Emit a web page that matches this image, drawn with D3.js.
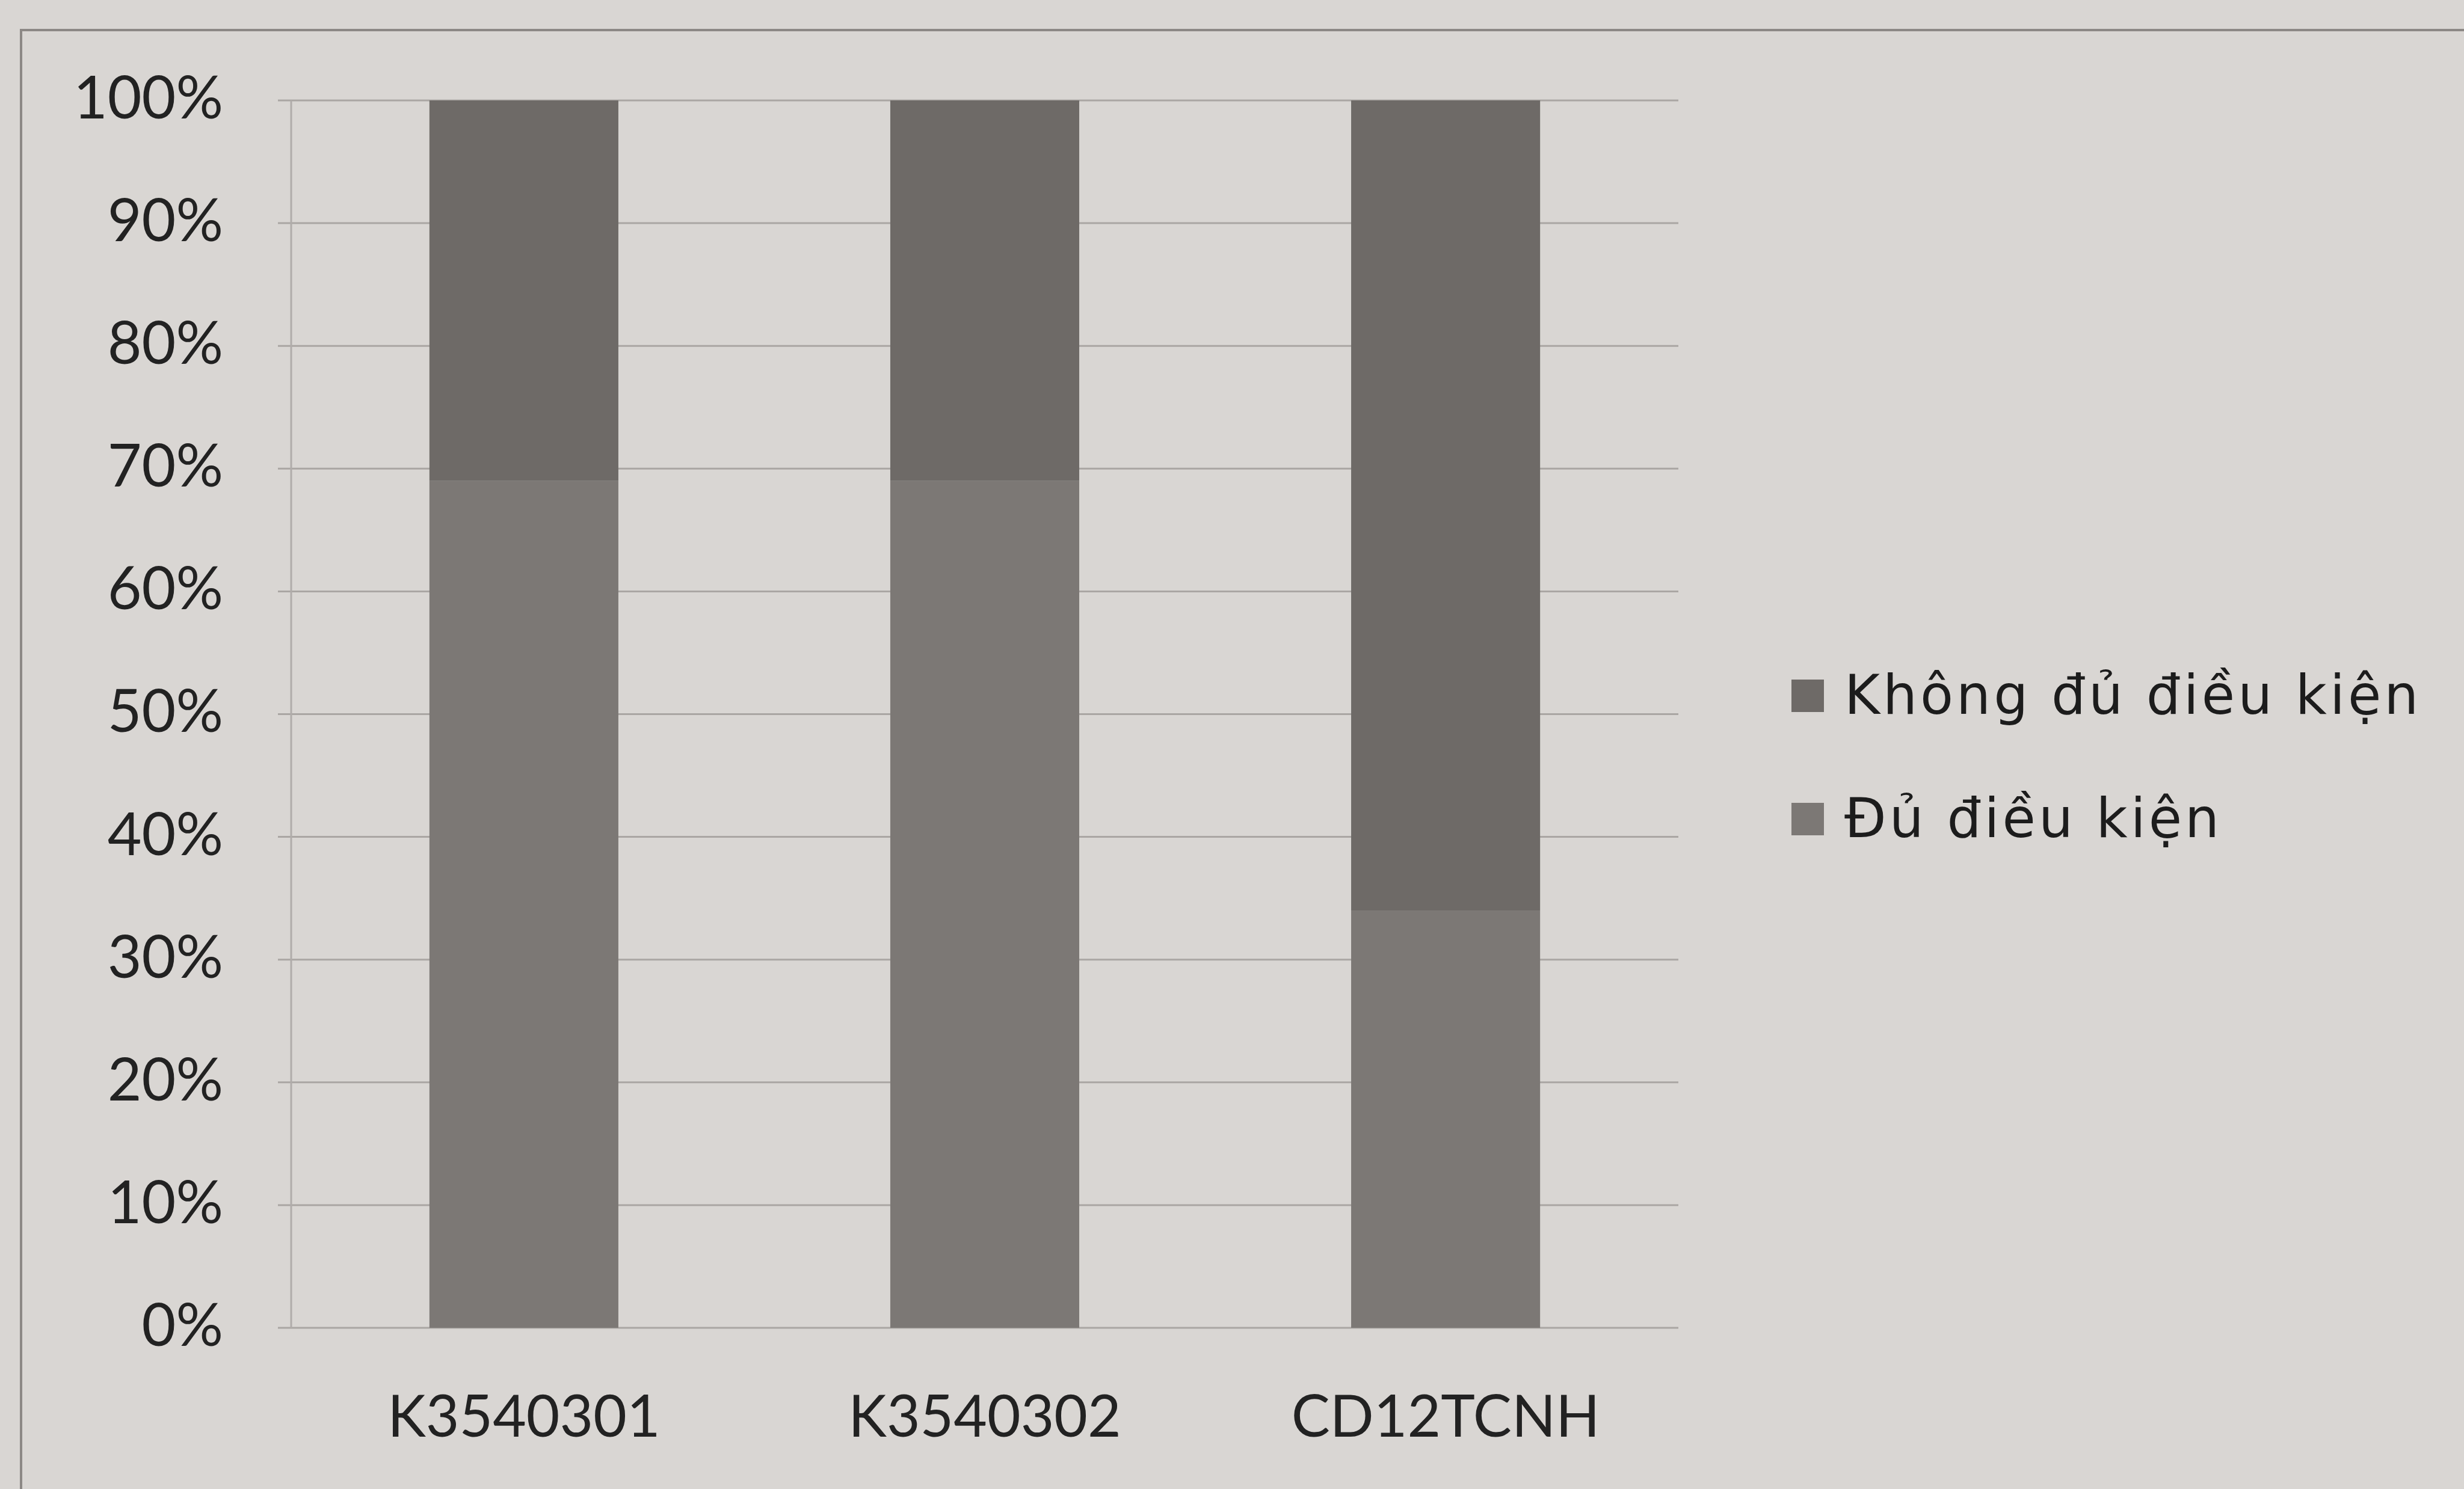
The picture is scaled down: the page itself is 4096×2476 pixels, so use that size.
<!DOCTYPE html>
<html>
<head>
<meta charset="utf-8">
<script src="https://cdn.jsdelivr.net/npm/d3@7"></script>
<style>
  html, body { margin: 0; padding: 0; background: #d9d6d3; }
  svg { display: block; }
  .ytick text, .xtick text { font-family: Lato, "Open Sans", sans-serif; fill: #222; }
  .legend text { font-family: "DejaVu Sans", "Noto Sans", sans-serif; fill: #1c1c1c; }
</style>
</head>
<body>
<div id="chart"></div>
<script>
// 100% stacked columns, two series per class
const categories = ["K3540301", "K3540302", "CD12TCNH"];
const duDieuKien = [69, 69, 34];      // bottom segment
const khongDuDieuKien = [31, 31, 66]; // top segment
const seriesNames = ["Không đủ điều kiện", "Đủ điều kiện"];
const yTicks = [0, 10, 20, 30, 40, 50, 60, 70, 80, 90, 100];

const W = 4096, H = 2476;
const m = { top: 167, left: 484, right: 4096 - 2790, bottom: 2476 - 2208 };
const iw = W - m.left - m.right, ih = H - m.top - m.bottom;

const COL_TOP = "#6e6a67", COL_BOT = "#7c7875";

const rows = categories.map((c, i) => ({ cat: c, du: duDieuKien[i], khong: khongDuDieuKien[i] }));
const stack = d3.stack().keys(["du", "khong"])(rows);
const fills = { du: COL_BOT, khong: COL_TOP };

const svg = d3.select("#chart").append("svg").attr("width", W).attr("height", H);
svg.append("rect").attr("width", W).attr("height", H).attr("fill", "#d9d6d3");

// chart frame (photographed page, runs off right and bottom)
svg.append("rect").attr("x", 35).attr("y", 50).attr("width", W).attr("height", H)
  .attr("fill", "none").attr("stroke", "#8c8885").attr("stroke-width", 4);

const x = d3.scaleBand(categories, [0, iw]).paddingInner(0.59).paddingOuter(0.3);
const y = d3.scaleLinear([0, 100], [ih, 0]);

const g = svg.append("g").attr("transform", `translate(${m.left},${m.top})`);

// gridlines with short outer ticks
g.append("g").selectAll("line").data(yTicks).join("line")
  .attr("x1", -22).attr("x2", iw).attr("y1", (d) => y(d)).attr("y2", (d) => y(d))
  .attr("stroke", "#aaa6a3").attr("stroke-width", 3);
g.append("line").attr("x1", 0).attr("x2", 0).attr("y1", 0).attr("y2", ih)
  .attr("stroke", "#b0acaa").attr("stroke-width", 3);

g.append("g").selectAll("g").data(stack).join("g")
  .attr("fill", (s) => fills[s.key])
  .selectAll("rect").data((s) => s).join("rect")
  .attr("x", (d) => x(d.data.cat)).attr("width", x.bandwidth())
  .attr("y", (d) => y(d[1])).attr("height", (d) => y(d[0]) - y(d[1]));

const ya = g.append("g").attr("class", "ytick")
  .call(d3.axisLeft(y).tickValues(yTicks).tickFormat((d) => d + "%").tickSize(0).tickPadding(113));
ya.select(".domain").remove();
ya.selectAll("text").attr("font-size", 98).attr("dy", "0.3em");

const xa = g.append("g").attr("class", "xtick").attr("transform", `translate(0,${ih})`)
  .call(d3.axisBottom(x).tickSize(0).tickPadding(0));
xa.select(".domain").remove();
xa.selectAll("text").attr("font-size", 96).attr("dy", 0).attr("y", 181);

// legend
const legend = svg.append("g").attr("class", "legend");
const lg = [
  { name: seriesNames[0], fill: COL_TOP, base: 1187 },
  { name: seriesNames[1], fill: COL_BOT, base: 1392 }
];
const li = legend.selectAll("g").data(lg).join("g");
li.append("rect").attr("x", 2978).attr("y", (d) => d.base - 57).attr("width", 54).attr("height", 54)
  .attr("fill", (d) => d.fill);
li.append("text").attr("x", 3066).attr("y", (d) => d.base).attr("font-size", 90)
  .attr("letter-spacing", 5).text((d) => d.name);
</script>
</body>
</html>
